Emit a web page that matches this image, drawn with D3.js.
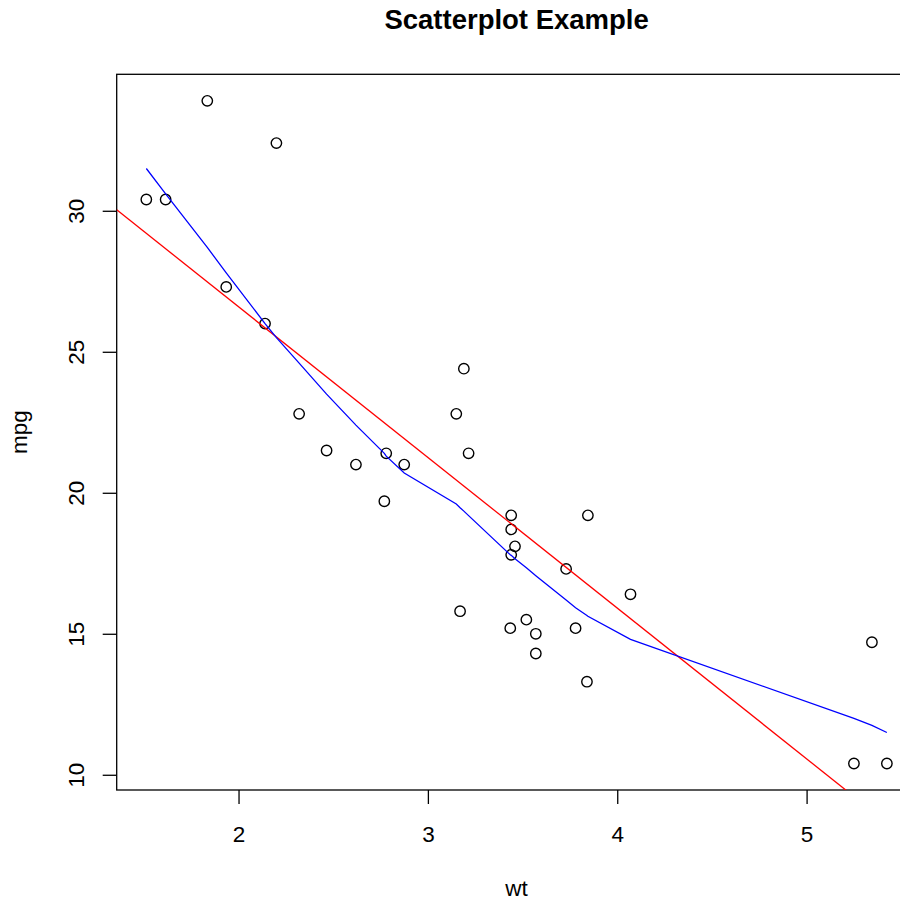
<!DOCTYPE html>
<html>
<head>
<meta charset="utf-8">
<script src="https://cdn.jsdelivr.net/npm/d3@7"></script>
<style>
  body { margin: 0; background: #fff; }
  svg { display: block; font-family: "Liberation Sans", Arial, sans-serif; }
</style>
</head>
<body>
<svg id="chart" width="900" height="900"></svg>
<script>
// mtcars: weight (1000 lbs) and miles per gallon
const wt  = [2.620, 2.875, 2.320, 3.215, 3.440, 3.460, 3.570, 3.190, 3.150, 3.440, 3.440,
             4.070, 3.730, 3.780, 5.250, 5.424, 5.345, 2.200, 1.615, 1.835, 2.465, 3.520,
             3.435, 3.840, 3.845, 1.935, 2.140, 1.513, 3.170, 2.770, 3.570, 2.780];
const mpg = [21.0, 21.0, 22.8, 21.4, 18.7, 18.1, 14.3, 24.4, 22.8, 19.2, 17.8,
             16.4, 17.3, 15.2, 10.4, 10.4, 14.7, 32.4, 30.4, 33.9, 21.5, 15.5,
             15.2, 13.3, 19.2, 27.3, 26.0, 30.4, 15.8, 19.7, 15.0, 21.4];

// lm(mpg ~ wt) coefficients (red line)
const lmIntercept = 37.285;
const lmSlope = -5.344;

// lowess(wt, mpg) smooth (blue line)
const lowessWt = [1.513, 1.615, 1.835, 1.935, 2.140, 2.200, 2.320, 2.465, 2.620, 2.770, 2.780,
                  2.875, 3.150, 3.170, 3.190, 3.215, 3.435, 3.440, 3.440, 3.440, 3.460, 3.520,
                  3.570, 3.570, 3.730, 3.780, 3.840, 3.845, 4.070, 5.250, 5.345, 5.424];
const lowessMpg = [31.5, 30.6, 28.7, 27.8, 26.0, 25.5, 24.6, 23.5, 22.4, 21.4, 21.3,
                   20.7, 19.6, 19.47, 19.35, 19.19, 17.8, 17.78, 17.78, 17.78, 17.66, 17.34,
                   17.06, 17.06, 16.2, 15.92, 15.65, 15.62, 14.8, 12.0, 11.75, 11.5];

const xTicks = [2, 3, 4, 5];
const yTicks = [10, 15, 20, 25, 30];

let svg = d3.select("#chart"),
    plot = {left: 116.7, right: 916.5, top: 74.3, bottom: 790};

// R style 4% padding around the data range
let pad = (ext) => { let d = (ext[1] - ext[0]) * 0.04; return [ext[0] - d, ext[1] + d]; };

let x = d3.scaleLinear().domain(pad(d3.extent(wt))).range([plot.left, plot.right]),
    y = d3.scaleLinear().domain(pad(d3.extent(mpg))).range([plot.bottom, plot.top]);

svg.append("rect").attr("width", 900).attr("height", 900).attr("fill", "#fff");

svg.append("defs").append("clipPath").attr("id", "clip")
  .append("rect")
  .attr("x", plot.left).attr("y", plot.top)
  .attr("width", plot.right - plot.left).attr("height", plot.bottom - plot.top);

// TITLE
svg.append("text")
  .attr("x", (plot.left + plot.right) / 2)
  .attr("y", 28.5)
  .attr("text-anchor", "middle")
  .style("font-size", "27.5px")
  .style("font-weight", "bold")
  .text("Scatterplot Example");

// AXES
let xAxis = svg.append("g")
  .attr("transform", "translate(0," + plot.bottom + ")")
  .call(d3.axisBottom(x).tickValues(xTicks).tickFormat(d3.format("d")).tickSize(14));
xAxis.select(".domain").remove();
xAxis.selectAll(".tick line").attr("stroke", "#000").attr("stroke-width", 1.3);
xAxis.selectAll(".tick text")
  .attr("y", 52).attr("dy", 0)
  .attr("fill", "#000")
  .style("font-size", "22.5px");

let yAxis = svg.append("g")
  .attr("transform", "translate(" + plot.left + ",0)")
  .call(d3.axisLeft(y).tickValues(yTicks).tickFormat(d3.format("d")).tickSize(14));
yAxis.select(".domain").remove();
yAxis.selectAll(".tick line").attr("stroke", "#000").attr("stroke-width", 1.3);
yAxis.selectAll(".tick text")
  .attr("x", null).attr("dy", 0)
  .attr("transform", "translate(-33,0) rotate(-90)")
  .attr("text-anchor", "middle")
  .attr("fill", "#000")
  .style("font-size", "22.5px");

// AXIS TITLES
svg.append("text")
  .attr("x", (plot.left + plot.right) / 2)
  .attr("y", 896)
  .attr("text-anchor", "middle")
  .style("font-size", "22.5px")
  .text("wt");

svg.append("text")
  .attr("transform", "translate(27," + (plot.top + plot.bottom) / 2 + ") rotate(-90)")
  .attr("text-anchor", "middle")
  .style("font-size", "22.5px")
  .text("mpg");

// BOX
svg.append("rect")
  .attr("x", plot.left).attr("y", plot.top)
  .attr("width", plot.right - plot.left).attr("height", plot.bottom - plot.top)
  .attr("fill", "none").attr("stroke", "#000").attr("stroke-width", 1.3);

let g = svg.append("g").attr("clip-path", "url(#clip)");

// POINTS
g.selectAll("circle")
  .data(wt.map((w, i) => ({wt: w, mpg: mpg[i]})))
  .enter().append("circle")
  .attr("cx", d => x(d.wt))
  .attr("cy", d => y(d.mpg))
  .attr("r", 5.2)
  .attr("fill", "none")
  .attr("stroke", "#000")
  .attr("stroke-width", 1.4);

// REGRESSION LINE (abline)
let xd = x.domain();
g.append("line")
  .attr("x1", x(xd[0])).attr("y1", y(lmIntercept + lmSlope * xd[0]))
  .attr("x2", x(xd[1])).attr("y2", y(lmIntercept + lmSlope * xd[1]))
  .attr("stroke", "#ff0000")
  .attr("stroke-width", 1.3);

// LOWESS
let line = d3.line().x(d => x(d[0])).y(d => y(d[1]));
g.append("path")
  .datum(lowessWt.map((w, i) => [w, lowessMpg[i]]))
  .attr("d", line)
  .attr("fill", "none")
  .attr("stroke", "#0000ff")
  .attr("stroke-width", 1.3);
</script>
</body>
</html>
